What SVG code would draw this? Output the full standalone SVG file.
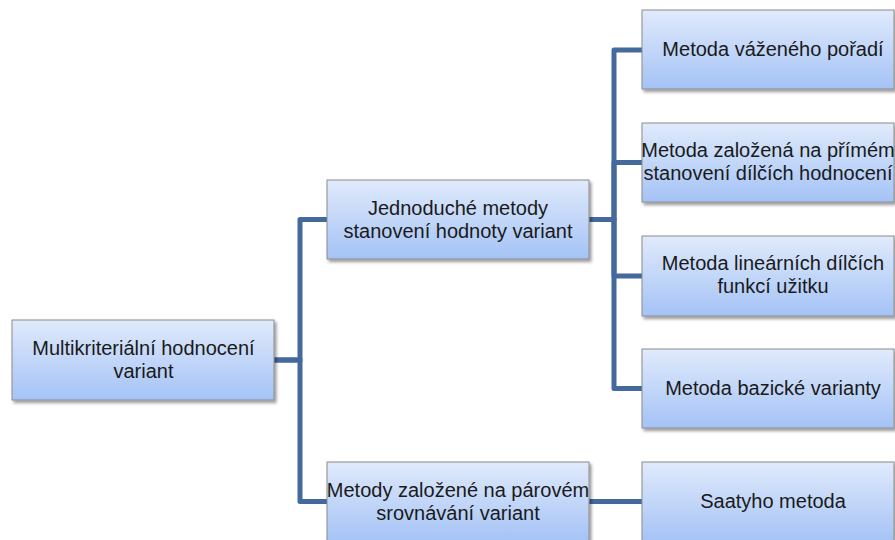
<svg xmlns="http://www.w3.org/2000/svg" width="895" height="540" viewBox="0 0 895 540">
<defs>
<linearGradient id="g" x1="0" y1="0" x2="0" y2="1">
<stop offset="0" stop-color="#e0eafb"/>
<stop offset="1" stop-color="#a4c3f6"/>
</linearGradient>
<filter id="sh" x="-10%" y="-10%" width="130%" height="140%">
<feDropShadow dx="2" dy="2.5" stdDeviation="1.6" flood-color="#000" flood-opacity="0.4"/>
</filter>
</defs>
<style>
.box{fill:url(#g);stroke:#8c8c8c;stroke-width:1;filter:url(#sh)}
.t{font-family:"Liberation Sans",Arial,sans-serif;font-size:20px;fill:#1a1a1a;text-anchor:middle}
.c{fill:none;stroke:#44699c;stroke-width:5;stroke-linejoin:round}
</style>
<rect width="895" height="540" fill="#fff"/>
<g id="connectors">
<path class="c" d="M274 360 H300 V219.5 H327"/>
<path class="c" d="M274 360 H300 V501.5 H327"/>
<path class="c" d="M589 219.5 H614 V50 H642"/>
<path class="c" d="M589 219.5 H614 V162.5 H642"/>
<path class="c" d="M589 219.5 H614 V276 H642"/>
<path class="c" d="M589 219.5 H614 V388.5 H642"/>
<path class="c" d="M589 501.5 H642"/>
</g>
<g id="root">
<rect class="box" x="12" y="320" width="262" height="80"/>
<text class="t" x="143.5" y="355">Multikriteriální hodnocení</text>
<text class="t" x="143.5" y="378">variant</text>
</g>
<g id="jednoduche">
<rect class="box" x="327" y="180" width="262" height="79"/>
<text class="t" x="458" y="215">Jednoduché metody</text>
<text class="t" x="458" y="238">stanovení hodnoty variant</text>
</g>
<g id="parove">
<rect class="box" x="327" y="462" width="262" height="80"/>
<text class="t" x="458" y="497">Metody založené na párovém</text>
<text class="t" x="458" y="520">srovnávání variant</text>
</g>
<g id="vazene">
<rect class="box" x="642" y="10" width="252" height="79"/>
<text class="t" x="773" y="56">Metoda váženého pořadí</text>
</g>
<g id="prime">
<rect class="box" x="642" y="123" width="252" height="79"/>
<text class="t" x="768" y="157">Metoda založená na přímém</text>
<text class="t" x="768" y="180">stanovení dílčích hodnocení</text>
</g>
<g id="linearni">
<rect class="box" x="642" y="236" width="252" height="80"/>
<text class="t" x="773" y="270">Metoda lineárních dílčích</text>
<text class="t" x="773" y="293">funkcí užitku</text>
</g>
<g id="bazicke">
<rect class="box" x="642" y="349" width="252" height="79"/>
<text class="t" x="773" y="395">Metoda bazické varianty</text>
</g>
<g id="saaty">
<rect class="box" x="642" y="462" width="252" height="80"/>
<text class="t" x="773" y="508">Saatyho metoda</text>
</g>
</svg>
